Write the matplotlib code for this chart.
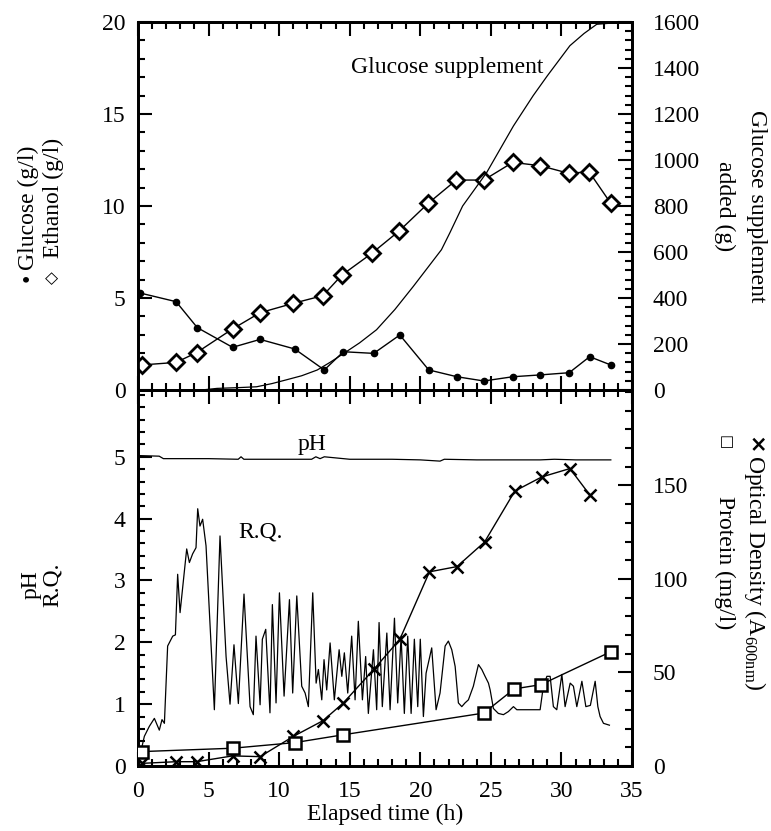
"""Fed-batch fermentation time course: glucose/ethanol/supplement (top), pH/R.Q./OD/protein (bottom)."""
import matplotlib

matplotlib.use("Agg")
import matplotlib.pyplot as plt  # noqa: E402
from matplotlib.ticker import MultipleLocator  # noqa: E402

plt.rcParams["font.family"] = ["Liberation Serif", "DejaVu Sans"]
plt.rcParams["font.size"] = 17

# ---- top panel data ----
glucose_t = [0.15, 2.7, 4.2, 6.7, 8.65, 11.1, 13.2, 14.55, 16.7, 18.55, 20.6, 22.6, 24.5, 26.55, 28.5, 30.55, 32.0, 33.5]
glucose = [5.27, 4.8, 3.39, 2.32, 2.75, 2.23, 1.09, 2.08, 1.99, 2.99, 1.09, 0.72, 0.49, 0.72, 0.82, 0.94, 1.81, 1.36]

ethanol_t = [0.25, 2.7, 4.15, 6.7, 8.65, 11.0, 13.1, 14.45, 16.55, 18.5, 20.55, 22.55, 24.5, 26.55, 28.5, 30.55, 31.95, 33.5]
ethanol = [1.36, 1.5, 2.03, 3.32, 4.2, 4.71, 5.13, 6.25, 7.42, 8.64, 10.14, 11.41, 11.41, 12.37, 12.19, 11.77, 11.87, 10.14]

supp_t = [4.5, 5.6, 7.0, 8.4, 9.5, 10.5, 11.6, 12.7, 13.6, 14.6, 15.7, 16.9, 18.2, 19.5, 20.5, 21.5, 22.1, 23.0, 24.7,
          26.6, 28.0, 29.0, 30.6, 31.6, 32.5, 33.5]
supp = [0, 7, 10, 14, 28, 44, 62, 87, 120, 160, 205, 262, 350, 450, 530, 610, 684, 800, 945,
        1148, 1280, 1366, 1497, 1550, 1590, 1595]

# ---- bottom panel data ----
ph_t = [0, 1.5, 1.8, 5, 7.1, 7.3, 7.5, 10, 12.3, 12.6, 12.9, 13.2, 15, 18, 20, 21.4, 21.7, 24, 26, 28.5, 29.5, 31, 33.5]
ph = [5.02, 5.01, 4.97, 4.97, 4.96, 5.0, 4.96, 4.96, 4.96, 5.0, 4.97, 5.0, 4.96, 4.96, 4.95, 4.93, 4.96, 4.95, 4.95, 4.95, 4.96, 4.95, 4.95]

rq_t = [0.28, 0.45, 0.8, 1.16, 1.51, 1.7, 1.87, 2.1, 2.46, 2.65, 2.81, 2.98, 3.45, 3.64, 3.87, 4.11, 4.23, 4.39, 4.58,
        4.82, 5.41, 5.81, 6.24, 6.52, 6.8, 7.11, 7.51, 7.94, 8.17, 8.36, 8.65, 8.81, 9.05, 9.35, 9.52, 9.78, 10.02,
        10.35, 10.73, 10.96, 11.25, 11.6, 11.84, 12.07, 12.38, 12.62, 12.78, 13.02, 13.18, 13.37, 13.61, 13.91,
        14.25, 14.44, 14.62, 14.86, 15.14, 15.38, 15.61, 15.9, 16.13, 16.32, 16.68, 16.91, 17.08, 17.31, 17.63,
        17.86, 18.17, 18.4, 18.64, 18.87, 19.11, 19.35, 19.58, 19.82, 20.0, 20.22, 20.41, 20.81, 21.12, 21.4,
        21.76, 21.99, 22.23, 22.47, 22.7, 22.94, 23.17, 23.41, 23.76, 24.12, 24.36, 24.59, 24.83, 24.95, 25.18,
        25.53, 25.89, 26.24, 26.6, 26.84, 27.66, 28.49, 28.72, 28.97, 29.2, 29.43, 29.67, 30.03, 30.26, 30.62,
        30.85, 31.09, 31.45, 31.73, 32.05, 32.39, 32.58, 32.74, 32.98, 33.4]
rq = [0.31, 0.48, 0.64, 0.77, 0.58, 0.75, 0.69, 1.94, 2.1, 2.12, 3.1, 2.48, 3.51, 3.29, 3.43, 3.53, 4.16, 3.88, 3.99,
      3.56, 0.91, 3.72, 1.77, 1.0, 1.96, 1.01, 2.78, 0.96, 0.83, 2.10, 0.99, 2.05, 2.21, 0.86, 2.61, 1.02, 2.80,
      1.13, 2.69, 1.18, 2.75, 1.29, 1.18, 0.96, 2.80, 1.34, 1.56, 1.07, 1.72, 1.23, 1.99, 1.07,
      1.88, 1.45, 1.83, 1.18, 2.10, 1.07, 2.34, 1.07, 1.77, 0.85, 1.88, 0.91, 2.32, 0.96, 2.15,
      0.91, 2.39, 1.02, 2.10, 0.85, 2.10, 0.85, 2.05, 0.96, 2.05, 0.80, 1.50, 1.91, 0.91, 1.18,
      1.94, 2.02, 1.88, 1.61, 1.02, 0.96, 1.02, 1.07, 1.29, 1.64, 1.56, 1.45, 1.34, 1.23, 0.93,
      0.85, 0.83, 0.88, 0.96, 0.91, 0.91, 0.91, 1.29, 1.45, 1.45, 0.96, 0.91, 1.48, 0.96, 1.34,
      1.29, 0.96, 1.37, 0.96, 0.98, 1.37, 0.96, 0.80, 0.69, 0.66]

od_t = [0.25, 2.7, 4.15, 6.7, 8.65, 11.0, 13.1, 14.55, 16.7, 18.55, 20.65, 22.6, 24.55, 26.7, 28.6, 30.6, 32.0]
od = [1.4, 2.3, 2.3, 5.4, 5.0, 15.8, 24.2, 33.7, 51.6, 67.7, 103.8, 106.6, 119.7, 147, 154.5, 159, 145]

protein_t = [0.25, 6.7, 11.1, 14.55, 24.5, 26.65, 28.55, 33.5]
protein = [7.7, 9.5, 12.5, 16.7, 28.3, 41.2, 43.5, 61.1]


def style_axis(ax):
    for sp in ax.spines.values():
        sp.set_linewidth(2)
    ax.tick_params(which="both", direction="in", width=1.5)
    ax.tick_params(which="major", length=10)
    ax.tick_params(which="minor", length=5)


def side_text(x_px, y_px, s, rot, **kw):
    fig.text(x_px / W, 1 - y_px / H, s, rotation=rot, rotation_mode="anchor", ha="left", va="center", **kw)


fig = plt.figure(figsize=(7.71, 8.31), dpi=100)
W, H = 771, 831
left, right = 138 / W, 632 / W
ax1 = fig.add_axes([left, 1 - 390 / H, right - left, (390 - 22) / H])
ax2 = fig.add_axes([left, 1 - 766 / H, right - left, (766 - 390) / H])
ax1r = ax1.twinx()
ax2r = ax2.twinx()

# top panel
ax1.plot(glucose_t, glucose, color="black", lw=1, marker="o", ms=4.5, zorder=3)
ax1.plot(ethanol_t, ethanol, color="black", lw=1, marker="D", ms=8.5, mfc="white", mew=2, zorder=4)
ax1r.plot(supp_t, supp, color="black", lw=0.9)
ax1.text(21.9, 17.5, "Glucose supplement", ha="center", va="center")

ax1.set_xlim(0, 35)
ax1.set_ylim(0, 20)
ax1r.set_ylim(0, 1600)
ax1.xaxis.set_major_locator(MultipleLocator(5))
ax1.xaxis.set_minor_locator(MultipleLocator(1))
ax1.yaxis.set_major_locator(MultipleLocator(5))
ax1.yaxis.set_minor_locator(MultipleLocator(1))
ax1r.yaxis.set_major_locator(MultipleLocator(200))
ax1r.yaxis.set_minor_locator(MultipleLocator(40))
ax1.tick_params(axis="x", which="both", top=True, bottom=True, labelbottom=False)
for a in (ax1, ax1r, ax2, ax2r):
    style_axis(a)
ax1.tick_params(axis="y", pad=9)
ax1r.tick_params(axis="y", pad=15)

# bottom panel
ax2.plot(ph_t, ph, color="black", lw=0.9)
ax2.plot(rq_t, rq, color="black", lw=0.9)
ax2r.plot(od_t, od, color="black", lw=1, marker="x", ms=9, mew=1.8, zorder=4)
ax2r.plot(protein_t, protein, color="black", lw=1, marker="s", ms=8, mfc="white", mew=1.8, zorder=4)
ax2.text(12.3, 5.2, "pH", ha="center", va="center")
ax2.text(8.7, 3.78, "R.Q.", ha="center", va="center")

ax2.set_xlim(0, 35)
ax2.set_ylim(0, 6.08)
ax2r.set_ylim(0, 201)
ax2.xaxis.set_major_locator(MultipleLocator(5))
ax2.xaxis.set_minor_locator(MultipleLocator(1))
ax2.yaxis.set_minor_locator(MultipleLocator(0.2))
ax2r.yaxis.set_minor_locator(MultipleLocator(10))
ax2.set_yticks([0, 1, 2, 3, 4, 5])
ax2r.set_yticks([0, 50, 100, 150])
ax2.tick_params(axis="x", which="both", top=True, bottom=True, pad=11)
ax2.tick_params(axis="y", pad=9)
ax2r.tick_params(axis="y", pad=15)
ax2.set_xlabel("Elapsed time (h)", labelpad=1)

# axis titles (left, read bottom-to-top)
side_text(28, 270, "Glucose (g/l)", 90)
side_text(53, 258, "Ethanol (g/l)", 90)
side_text(28, 282, "\u2022", 90, fontsize=17)
side_text(53, 284, "\u25c7", 90, fontsize=12, family=["DejaVu Sans"], fontweight="bold")
fig.text(42 / W, 1 - 585 / H, "pH\nR.Q.", rotation=90, ha="center", va="center", linespacing=1.0)

# axis titles (right, read top-to-bottom)
fig.text(756 / W, 1 - 206 / H, "Glucose supplement", rotation=270, ha="center", va="center")
fig.text(725 / W, 1 - 206 / H, "added (g)", rotation=270, ha="center", va="center")
side_text(755, 436, "\u00d7", 270, fontsize=16, family=["DejaVu Sans"], fontweight="bold")
side_text(755, 455, "Optical Density (A$_{\\mathregular{600nm}}$)", 270)
side_text(725, 435, "\u25a1", 270, fontsize=11, family=["DejaVu Sans"], fontweight="bold")
fig.text(725 / W, 1 - 563 / H, "Protein (mg/l)", rotation=270, ha="center", va="center")

fig.savefig("out.png", dpi=100)
